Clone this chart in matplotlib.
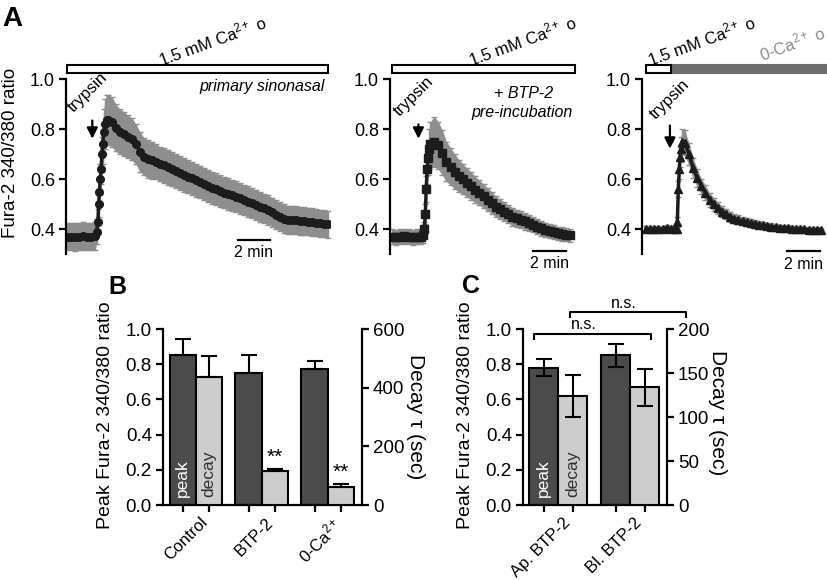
import numpy as np
import matplotlib
matplotlib.use("Agg")
import matplotlib.pyplot as plt
from matplotlib.patches import Rectangle
from matplotlib.transforms import ScaledTranslation

plt.rcParams['font.family'] = ['Liberation Sans', 'DejaVu Sans']
plt.rcParams['mathtext.fontset'] = 'custom'
plt.rcParams['mathtext.rm'] = 'Liberation Sans'
plt.rcParams['mathtext.it'] = 'Liberation Sans:italic'
plt.rcParams['axes.linewidth'] = 1.6
plt.rcParams['xtick.major.width'] = 1.6
plt.rcParams['ytick.major.width'] = 1.6

# ---------------- A: Fura-2 traces (ratio vs time in min) ----------------
# primary sinonasal
base1_t = [0, 0.25, 0.5, 0.75, 1.0, 1.25, 1.5, 1.75]
base1 = [0.37, 0.37, 0.368, 0.37, 0.372, 0.37, 0.37, 0.372]
base1_err = [0.055] * 8
rise1_t = [1.85, 1.93, 1.98, 2.03, 2.08, 2.13, 2.18, 2.23, 2.3, 2.38, 2.47]
rise1 = [0.39, 0.43, 0.50, 0.55, 0.60, 0.64, 0.70, 0.74, 0.79, 0.82, 0.835]
rise1_err = [0.05, 0.05, 0.05, 0.05, 0.06, 0.06, 0.07, 0.08, 0.09, 0.10, 0.10]
decay1 = [0.836, 0.83, 0.805, 0.79, 0.78, 0.77, 0.76, 0.74, 0.71, 0.69,
          0.68, 0.675, 0.67, 0.66, 0.655, 0.647, 0.64, 0.632, 0.625, 0.617,
          0.61, 0.603, 0.595, 0.589, 0.58, 0.573, 0.566, 0.559, 0.552, 0.546,
          0.54, 0.535, 0.53, 0.523, 0.516, 0.51, 0.503, 0.496, 0.489, 0.483,
          0.477, 0.468, 0.458, 0.45, 0.442, 0.438, 0.436, 0.435, 0.433, 0.432,
          0.43, 0.428, 0.426, 0.424, 0.422, 0.42]
decay1_err = [0.10, 0.10, 0.095, 0.09, 0.09, 0.085, 0.085, 0.08, 0.08, 0.075,
              0.075, 0.075, 0.07, 0.07, 0.07, 0.07, 0.07, 0.068, 0.068, 0.068,
              0.066, 0.066, 0.066, 0.065, 0.065, 0.065, 0.064, 0.064, 0.063, 0.063,
              0.062, 0.062, 0.062, 0.061, 0.061, 0.06, 0.06, 0.06, 0.06, 0.059,
              0.059, 0.058, 0.058, 0.057, 0.057, 0.056, 0.056, 0.056, 0.055, 0.055,
              0.055, 0.055, 0.054, 0.054, 0.054, 0.054]
decay1_t = np.linspace(2.55, 16.3, len(decay1))

# + BTP-2 pre-incubation
base2_t = [0, 0.25, 0.5, 0.75, 1.0, 1.25, 1.5, 1.75]
base2 = [0.37, 0.368, 0.37, 0.372, 0.37, 0.368, 0.37, 0.37]
base2_err = [0.03] * 8
rise2_t = [1.85, 1.96, 2.02, 2.07, 2.13, 2.19, 2.26, 2.33]
rise2 = [0.375, 0.40, 0.46, 0.56, 0.64, 0.685, 0.72, 0.74]
rise2_err = [0.03, 0.03, 0.04, 0.05, 0.06, 0.07, 0.08, 0.09]
decay2 = [0.75, 0.735, 0.705, 0.67, 0.65, 0.63, 0.613, 0.60, 0.585, 0.572,
          0.558, 0.545, 0.532, 0.518, 0.505, 0.49, 0.48, 0.47, 0.46, 0.45,
          0.443, 0.437, 0.431, 0.425, 0.418, 0.41, 0.403, 0.397, 0.392, 0.387,
          0.383, 0.38, 0.378, 0.376]
decay2_err = [0.10, 0.095, 0.09, 0.08, 0.075, 0.07, 0.065, 0.06, 0.058, 0.055,
              0.052, 0.05, 0.048, 0.046, 0.044, 0.042, 0.04, 0.038, 0.037, 0.036,
              0.035, 0.034, 0.033, 0.032, 0.031, 0.03, 0.03, 0.029, 0.028, 0.028,
              0.027, 0.027, 0.026, 0.026]
decay2_t = np.linspace(2.55, 10.8, len(decay2))

# 0-Ca2+ o
base3_t = [0, 0.25, 0.5, 0.75, 1.0, 1.25, 1.5, 1.75]
base3 = [0.40, 0.40, 0.402, 0.40, 0.40, 0.405, 0.40, 0.40]
base3_err = [0.012] * 8
rise3_t = [1.85, 1.9, 1.96, 2.02, 2.06, 2.12, 2.2]
rise3 = [0.40, 0.43, 0.56, 0.64, 0.69, 0.72, 0.75]
rise3_err = [0.01, 0.02, 0.03, 0.04, 0.04, 0.05, 0.05]
decay3 = [0.745, 0.70, 0.645, 0.605, 0.572, 0.545, 0.518, 0.50, 0.484, 0.47,
          0.46, 0.45, 0.442, 0.437, 0.432, 0.428, 0.425, 0.421, 0.418, 0.415,
          0.412, 0.41, 0.408, 0.406, 0.405, 0.404, 0.402, 0.401, 0.40, 0.399,
          0.398, 0.397, 0.397, 0.396]
decay3_err = [0.05, 0.045, 0.04, 0.035, 0.03, 0.03, 0.028, 0.026, 0.024, 0.022,
              0.02, 0.02, 0.018, 0.018, 0.016, 0.016, 0.015, 0.015, 0.014, 0.014,
              0.013, 0.013, 0.012, 0.012, 0.012, 0.012, 0.011, 0.011, 0.011, 0.011,
              0.01, 0.01, 0.01, 0.01]
decay3_t = np.linspace(2.35, 10.6, len(decay3))

# ---------------- B: peak ratio and decay tau ----------------
cats_b = ['Control', 'BTP-2', '0-Ca$^{2+}$']
peak_b = [0.85, 0.75, 0.77]
peak_err_b = [0.095, 0.10, 0.047]
decay_b = [436, 117, 62]
decay_err_b = [72, 6, 11]

# ---------------- C: apical vs basolateral BTP-2 ----------------
cats_c = ['Ap. BTP-2', 'Bl. BTP-2']
peak_c = [0.78, 0.85]
peak_err_c = [0.048, 0.065]
decay_c = [124, 134]
decay_err_c = [24, 21]

ink = '#1c1c1c'
band = '#8e8e8e'
dark_bar = '#4b4b4b'
light_bar = '#cdcdcd'

W, H = 827, 580
fig = plt.figure(figsize=(W / 100, H / 100), dpi=100)


def box(l, t, r, b):
    return [l / W, 1 - b / H, (r - l) / W, (b - t) / H]


def ftext(x, y, s, **kw):
    fig.text(x / W, 1 - y / H, s, **kw)


def trace_axes(l, r, t0, ppm):
    ax = fig.add_axes(box(l, 79, r, 254))
    ax.set_xlim((l - t0) / ppm, (r - t0) / ppm)
    ax.set_ylim(0.3, 1.0)
    for s in ['top', 'right', 'bottom']:
        ax.spines[s].set_visible(False)
    ax.set_xticks([])
    ax.set_yticks([0.4, 0.6, 0.8, 1.0])
    ax.yaxis.set_major_formatter('{x:.1f}')
    ax.tick_params(axis='y', labelsize=13, length=5, pad=3)
    ax.patch.set_alpha(0)
    return ax


def draw_trace(ax, parts, marker, ms):
    t = np.concatenate([p[0] for p in parts])
    v = np.concatenate([p[1] for p in parts])
    e = np.concatenate([p[2] for p in parts])
    ax.fill_between(t, v - e, v + e, color=band, lw=0)
    ax.errorbar(t, v, yerr=e, fmt='none', ecolor=band, elinewidth=1.0, capsize=2.5)
    ax.plot(t, v, '-', color=ink, lw=2.5, marker=marker, ms=ms, mfc=ink, mec=ink)


def scale_bar(ax, x0, y, ty):
    ax.plot([x0, x0 + 2], [y, y], color='k', lw=1.6, clip_on=False)
    ax.text(x0 + 1, ty, '2 min', ha='center', va='center', fontsize=11.5)


def trypsin(ax, tx, ty, ax_x, y0, y1):
    ax.text(tx, ty, 'trypsin', rotation=45, ha='center', va='center', fontsize=12)
    ax.annotate('', xy=(ax_x, y1), xytext=(ax_x, y0),
                arrowprops=dict(arrowstyle='-|>', color='k', lw=1.6, mutation_scale=16))


# A1
a1 = trace_axes(66, 330, 67, 16)
draw_trace(a1, [(base1_t, base1, base1_err), (rise1_t, rise1, rise1_err),
                (decay1_t, decay1, decay1_err)], 'o', 5.5)
a1.add_patch(Rectangle((0, 1.024), 16.3, 0.032, fc='white', ec='k', lw=1.5, clip_on=False))
a1.text(9.06, 1.156, '1.5 mM Ca$^{2+}$ o', rotation=20, ha='center', va='center', fontsize=12)
a1.text(16.1, 0.972, 'primary sinonasal', style='italic', ha='right', va='center', fontsize=11.5)
trypsin(a1, 1.33, 0.945, 1.58, 0.845, 0.75)
scale_bar(a1, 10.67, 0.356, 0.306)

# A2
a2 = trace_axes(390, 577, 392, 16.5)
draw_trace(a2, [(base2_t, base2, base2_err), (rise2_t, rise2, rise2_err),
                (decay2_t, decay2, decay2_err)], 's', 5.5)
a2.add_patch(Rectangle((0, 1.024), 11.1, 0.032, fc='white', ec='k', lw=1.5, clip_on=False))
a2.text(7.88, 1.156, '1.5 mM Ca$^{2+}$ o', rotation=20, ha='center', va='center', fontsize=12)
a2.text(7.96, 0.943, '+ BTP-2', style='italic', ha='center', va='center', fontsize=11.5)
a2.text(7.86, 0.865, 'pre-incubation', style='italic', ha='center', va='center', fontsize=11.5)
trypsin(a2, 1.33, 0.93, 1.6, 0.83, 0.75)
scale_bar(a2, 8.56, 0.313, 0.262)

# A3
a3 = trace_axes(642, 827, 646, 16.5)
draw_trace(a3, [(base3_t, base3, base3_err), (rise3_t, rise3, rise3_err),
                (decay3_t, decay3, decay3_err)], '^', 5.5)
a3.add_patch(Rectangle((0, 1.024), 1.5, 0.032, fc='white', ec='k', lw=1.5, clip_on=False, zorder=3))
a3.add_patch(Rectangle((1.5, 1.024), 9.5, 0.032, fc='#6d6d6d', ec='#6d6d6d', lw=1.5, clip_on=False))
a3.text(3.37, 1.156, '1.5 mM Ca$^{2+}$ o', rotation=20, ha='center', va='center', fontsize=12)
a3.text(8.83, 1.145, '0-Ca$^{2+}$ o', rotation=20, ha='center', va='center', fontsize=12,
        color='#8c8c8c')
trypsin(a3, 1.45, 0.92, 1.45, 0.825, 0.71)
scale_bar(a3, 8.53, 0.313, 0.258)

ftext(11, 153, 'Fura-2 340/380 ratio', rotation=90, ha='center', va='center', fontsize=13.5)


# ---------------- bar panels ----------------
def bar_panel(rect, cats, peak, peak_err, decay, decay_err, xlim, rmax, rticks, one_sided):
    ax = fig.add_axes(rect)
    g = np.arange(len(cats))
    w = 0.4
    pe = np.asarray(peak_err)
    de = np.asarray(decay_err)
    ekw = dict(elinewidth=1.5, capthick=1.5, ecolor='k')
    ax.bar(g - w / 2, peak, w, color=dark_bar, ec='k', lw=1.5,
           yerr=[np.zeros_like(pe), pe] if one_sided else pe, capsize=6, error_kw=ekw)
    ax.set_xlim(*xlim)
    ax.set_ylim(0, 1.0)
    ax.set_yticks(np.arange(0, 1.01, 0.2))
    ax.yaxis.set_major_formatter('{x:.1f}')
    ax.spines['top'].set_visible(False)
    ax.spines['right'].set_visible(False)
    ax.set_xticks(np.r_[g - w / 2, g + w / 2])
    ax.set_xticklabels([])
    ax.set_xticks(g, minor=True)
    ax.set_xticklabels(cats, minor=True)
    ax.tick_params(axis='both', which='major', labelsize=13.5, length=5, pad=3)
    ax.tick_params(axis='x', which='minor', length=0, pad=7, labelsize=12, labelrotation=45)
    for lbl in ax.get_xticklabels(minor=True):
        lbl.set_ha('right')
        lbl.set_rotation_mode('anchor')
        lbl.set_transform(lbl.get_transform() + ScaledTranslation(0.04, 0, fig.dpi_scale_trans))

    ax2 = ax.twinx()
    ax2.bar(g + w / 2, decay, w, color=light_bar, ec='k', lw=1.5,
            yerr=[np.zeros_like(de), de] if one_sided else de, capsize=6, error_kw=ekw)
    ax2.set_ylim(0, rmax)
    ax2.set_yticks(rticks)
    for s in ['top', 'left', 'bottom']:
        ax2.spines[s].set_visible(False)
    ax2.tick_params(axis='y', labelsize=13.5, length=5, pad=3)

    ax.text(g[0] - w / 2, 0.045, 'peak', rotation=90, color='white', ha='center', va='bottom',
            fontsize=12.5)
    ax2.text(g[0] + w / 2, 0.045 * rmax, 'decay', rotation=90, color='#303030', ha='center',
             va='bottom', fontsize=12.5)
    return ax, ax2, g, w


bB, bB2, gB, wB = bar_panel(box(163, 329, 362, 505), cats_b, peak_b, peak_err_b, decay_b,
                            decay_err_b, (-0.5, 2.52), 600, [0, 200, 400, 600], True)
for i in [1, 2]:
    bB2.text(gB[i] + wB / 2, decay_b[i] + decay_err_b[i] + 40, '**', ha='center', va='center',
             fontsize=15)

cC, cC2, gC, wC = bar_panel(box(523, 329, 667, 505), cats_c, peak_c, peak_err_c, decay_c,
                            decay_err_c, (-0.49, 1.51), 200, [0, 50, 100, 150, 200], False)
cC.plot([-0.333, -0.333, 1.287, 1.287], [0.943, 0.972, 0.972, 0.943], color='k', lw=1.5,
        clip_on=False)
cC.text(0.35, 1.023, 'n.s.', ha='center', va='center', fontsize=11.5)
cC.plot([0.157, 0.157, 1.774, 1.774], [1.07, 1.098, 1.098, 1.07], color='k', lw=1.5,
        clip_on=False)
cC.text(0.907, 1.146, 'n.s.', ha='center', va='center', fontsize=11.5)

for x in [106, 466]:
    ftext(x, 415, 'Peak Fura-2 340/380 ratio', rotation=90, ha='center', va='center',
          fontsize=14)
ftext(415, 417, 'Decay \u03c4 (sec)', rotation=270, ha='center', va='center', fontsize=15)
ftext(717, 413, 'Decay \u03c4 (sec)', rotation=270, ha='center', va='center', fontsize=15)

ftext(12, 19, 'A', ha='center', va='center', fontsize=20, fontweight='bold')
ftext(117, 287, 'B', ha='center', va='center', fontsize=18, fontweight='bold')
ftext(471, 286, 'C', ha='center', va='center', fontsize=18, fontweight='bold')

fig.savefig('out.png', dpi=100)
